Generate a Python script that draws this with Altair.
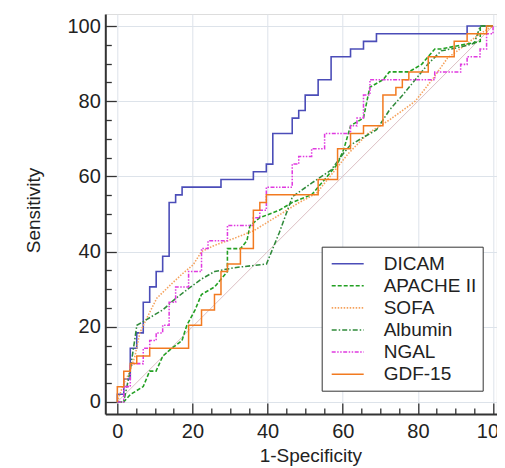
import altair as alt
import pandas as pd

FONT = "Liberation Sans"

SERIES = ["DICAM", "APACHE II", "SOFA", "Albumin", "NGAL", "GDF-15"]
COLORS = ["#4b4db8", "#22a022", "#f5a25d", "#2f8a3a", "#e03ae0", "#f27a20"]
DASHES = [[1, 0], [4, 2], [1.5, 1.5], [5, 2, 1.5, 2], [4, 1.5, 1.5, 1.5, 1.5, 1.5], [1, 0]]
WIDTHS = [1.6, 1.5, 1.4, 1.5, 1.4, 2.2]

DICAM_X = [0, 0, 1.72, 1.72, 3.45, 3.45, 5.17, 5.17, 6.90, 6.90, 8.62, 8.62, 10.34, 10.34,
           12.07, 12.07, 13.79, 13.79, 15.52, 15.52, 17.24, 17.24, 27.59, 27.59, 36.21, 36.21,
           39.66, 39.66, 41.38, 41.38, 46.55, 46.55, 48.28, 48.28, 50.00, 50.00, 53.45, 53.45,
           56.90, 56.90, 62.07, 62.07, 65.52, 65.52, 68.97, 68.97, 93.10, 93.10, 100]
DICAM_Y = [0, 2.04, 2.04, 6.12, 6.12, 14.29, 14.29, 18.37, 18.37, 26.53, 26.53, 30.61, 30.61,
           34.69, 34.69, 38.78, 38.78, 53.06, 53.06, 55.10, 55.10, 57.14, 57.14, 59.18, 59.18,
           61.22, 61.22, 63.27, 63.27, 71.43, 71.43, 75.51, 75.51, 77.55, 77.55, 81.63, 81.63,
           85.71, 85.71, 91.84, 91.84, 93.88, 93.88, 95.92, 95.92, 97.96, 97.96, 100, 100]

APACHE_X = [0, 1.7, 3.5, 6.9, 8.6, 10.3, 12.1, 14.5, 17.2, 18.5, 20.7, 22.4, 25.9, 29.3, 29.3,
            32.8, 34.5, 35.3, 37.9, 43.1, 46.6, 51.7, 55.2, 58.6, 60.3, 62.1, 65.5, 67.2, 70.7,
            72.4, 77.6, 81.0, 84.5, 86.2, 96.6, 96.6, 100]
APACHE_Y = [0, 0, 2.0, 4.1, 8.2, 8.2, 12.2, 14.3, 16.3, 20.4, 24.5, 28.6, 30.6, 34.7, 40.8,
            40.8, 42.9, 46.9, 49.0, 51.0, 53.1, 55.1, 59.2, 63.3, 67.3, 73.5, 75.5, 83.7, 85.7,
            87.8, 87.8, 89.8, 93.9, 93.9, 95.9, 100, 100]

SOFA_X = [0, 1.0, 2.0, 3.4, 4.7, 6.0, 8.2, 10.5, 14.0, 17.2, 20.2, 22.4, 25.5, 31.0, 36.2,
          42.4, 48.3, 53.0, 56.6, 61.4, 66.8, 72.4, 79.3, 84.0, 87.9, 92.0, 96.6, 100]
SOFA_Y = [0, 3.0, 5.5, 8.2, 12.2, 18.4, 23.0, 27.6, 31.0, 34.0, 36.5, 40.0, 41.5, 43.5, 45.5,
          49.3, 53.0, 55.5, 60.0, 66.0, 71.5, 75.0, 80.0, 86.0, 91.5, 94.5, 98.0, 100]

ALBUMIN_X = [0, 1.7, 3.4, 5.2, 8.6, 12.1, 15.5, 19.0, 22.4, 25.9, 31.0, 39.7, 43.1, 46.6,
             51.7, 56.9, 60.3, 62.1, 65.5, 69.0, 72.4, 75.9, 79.3, 82.8, 86.2, 91.4, 95.0,
             96.6, 100]
ALBUMIN_Y = [0, 0, 8.2, 20.4, 22.4, 24.5, 27.5, 30.2, 32.7, 34.7, 35.7, 36.7, 45.0, 54.6,
             58.2, 61.7, 66.3, 68.4, 70.4, 72.4, 77.6, 81.6, 85.7, 90.0, 93.4, 94.4, 95.4,
             100, 100]

NGAL_X = [0, 1.72, 1.72, 3.45, 3.45, 6.90, 6.90, 8.62, 8.62, 10.34, 10.34, 12.07, 12.07,
          13.79, 13.79, 15.52, 15.52, 18.97, 18.97, 22.41, 22.41, 24.14, 24.14, 29.31, 29.31,
          36.21, 36.21, 37.93, 37.93, 39.66, 39.66, 46.55, 46.55, 48.28, 48.28, 51.72, 51.72,
          55.17, 55.17, 62.07, 62.07, 63.79, 63.79, 65.52, 65.52, 67.24, 67.24, 84.48, 84.48,
          91.38, 91.38, 93.10, 93.10, 96.55, 96.55, 98.28, 98.28, 100, 100]
NGAL_Y = [0, 0, 4.08, 4.08, 10.20, 10.20, 14.29, 14.29, 16.33, 16.33, 18.37, 18.37, 20.41,
          20.41, 26.53, 26.53, 30.61, 30.61, 34.69, 34.69, 40.82, 40.82, 42.86, 42.86, 46.94,
          46.94, 48.98, 48.98, 51.02, 51.02, 57.14, 57.14, 63.27, 63.27, 65.31, 65.31, 67.35,
          67.35, 71.43, 71.43, 73.47, 73.47, 75.51, 75.51, 81.63, 81.63, 85.71, 85.71, 87.76,
          87.76, 89.80, 89.80, 91.84, 91.84, 93.88, 93.88, 97.96, 97.96, 100]

GDF_X = [0, 0, 1.72, 1.72, 3.45, 3.45, 5.17, 5.17, 8.62, 8.62, 18.97, 18.97, 22.41, 22.41,
         25.86, 25.86, 27.59, 27.59, 29.31, 29.31, 32.76, 32.76, 36.21, 36.21, 37.93, 37.93,
         39.66, 39.66, 53.45, 53.45, 58.62, 58.62, 62.07, 62.07, 65.52, 65.52, 70.69, 70.69,
         74.14, 74.14, 75.86, 75.86, 77.59, 77.59, 82.76, 82.76, 89.66, 89.66, 93.10, 93.10,
         98.28, 98.28, 100]
GDF_Y = [0, 4.08, 4.08, 8.16, 8.16, 10.20, 10.20, 12.24, 12.24, 14.29, 14.29, 20.41, 20.41,
         24.49, 24.49, 28.57, 28.57, 34.69, 34.69, 36.73, 36.73, 40.82, 40.82, 51.02, 51.02,
         53.06, 53.06, 55.10, 55.10, 59.18, 59.18, 67.35, 67.35, 71.43, 71.43, 73.47, 73.47,
         81.63, 81.63, 83.67, 83.67, 85.71, 85.71, 87.76, 87.76, 91.84, 91.84, 95.92, 95.92,
         97.96, 97.96, 100, 100]

DIAG_X = [0, 100]
DIAG_Y = [0, 100]

MAJOR_TICKS = [0, 20, 40, 60, 80, 100]
MINOR_TICKS = [0, 5, 10, 15, 20, 25, 30, 35, 40, 45, 50, 55, 60, 65, 70, 75, 80, 85, 90, 95, 100]

curves = {
    "DICAM": (DICAM_X, DICAM_Y),
    "APACHE II": (APACHE_X, APACHE_Y),
    "SOFA": (SOFA_X, SOFA_Y),
    "Albumin": (ALBUMIN_X, ALBUMIN_Y),
    "NGAL": (NGAL_X, NGAL_Y),
    "GDF-15": (GDF_X, GDF_Y),
}
rows = []
for name in SERIES:
    xs, ys = curves[name]
    assert len(xs) == len(ys), name
    for i, (a, b) in enumerate(zip(xs, ys)):
        rows.append({"series": name, "fpr": a, "tpr": b, "idx": i})
df = pd.DataFrame(rows)
diag_df = pd.DataFrame({"fpr": DIAG_X, "tpr": DIAG_Y})

XDOM = [-3.2, 101.0]
YDOM = [-3.2, 103.2]
xsc = alt.Scale(domain=XDOM, nice=False, zero=False)
ysc = alt.Scale(domain=YDOM, nice=False, zero=False)

tick_size = {"condition": {"test": "datum.value % 20 === 0", "value": -11}, "value": -6}

tick_axis_x = alt.Axis(orient="bottom", values=MINOR_TICKS, labels=False, domain=False,
                       grid=False, ticks=True, tickColor="#333333", tickWidth=1.3,
                       tickSize=tick_size, title=None)
tick_axis_y = alt.Axis(orient="left", values=MINOR_TICKS, labels=False, domain=False,
                       grid=False, ticks=True, tickColor="#333333", tickWidth=1.3,
                       tickSize=tick_size, title=None)

main_axis_x = alt.Axis(orient="bottom", values=MAJOR_TICKS, ticks=False, domain=True,
                       domainColor="#333333", domainWidth=2, grid=True, gridColor="#dde3ea",
                       gridWidth=1, labelFont=FONT, labelFontSize=20, labelColor="#222222",
                       labelPadding=8, labelFlush=False, labelOverlap=False,
                       title="1-Specificity", titleFont=FONT, titleFontSize=19,
                       titleFontWeight="normal", titleColor="#222222", titleX=205, titleY=33,
                       titleBaseline="top", titleAlign="center")
main_axis_y = alt.Axis(orient="left", values=MAJOR_TICKS, ticks=False, domain=True,
                       domainColor="#333333", domainWidth=2, grid=True, gridColor="#dde3ea",
                       gridWidth=1, labelFont=FONT, labelFontSize=20, labelColor="#222222",
                       labelPadding=5, labelFlush=False, labelOverlap=False,
                       title="Sensitivity", titleFont=FONT, titleFontSize=19,
                       titleFontWeight="normal", titleColor="#222222", titleX=-72, titleY=196,
                       titleAngle=270, titleBaseline="middle", titleAlign="center")

diag = alt.Chart(diag_df).mark_line(color="#dcc0c4", strokeWidth=1).encode(
    x=alt.X("fpr:Q", scale=xsc, axis=tick_axis_x),
    y=alt.Y("tpr:Q", scale=ysc, axis=tick_axis_y),
)

legend = alt.Legend(
    title=None, orient="none", legendX=216.4, legendY=232.7, direction="vertical",
    padding=6, strokeColor="#333333", fillColor="white",
    symbolType="M-1.6,0L1.6,0", symbolSize=400, symbolOffset=9, labelOffset=25,
    labelFont=FONT, labelFontSize=19, labelColor="#222222", rowPadding=1.1,
    labelExpr="datum.label + '    '",
)

lines = alt.Chart(df).mark_line().encode(
    x=alt.X("fpr:Q", scale=xsc, axis=main_axis_x),
    y=alt.Y("tpr:Q", scale=ysc, axis=main_axis_y),
    color=alt.Color("series:N", scale=alt.Scale(domain=SERIES, range=COLORS), legend=legend),
    strokeDash=alt.StrokeDash("series:N", scale=alt.Scale(domain=SERIES, range=DASHES), legend=legend),
    strokeWidth=alt.StrokeWidth("series:N", scale=alt.Scale(domain=SERIES, range=WIDTHS), legend=legend),
    order=alt.Order("idx:Q"),
)

chart = alt.layer(diag, lines).resolve_axis(x="independent", y="independent").properties(
    width=391.5, height=400,
    autosize=alt.AutoSizeParams(type="none"),
    padding={"left": 97.3, "top": 6, "right": 0, "bottom": 62},
    background="white",
).configure_view(stroke=None).configure_legend(strokeWidth=1.5).configure(font=FONT)

chart.save("out.html", embed_options={"renderer": "svg", "actions": False})
